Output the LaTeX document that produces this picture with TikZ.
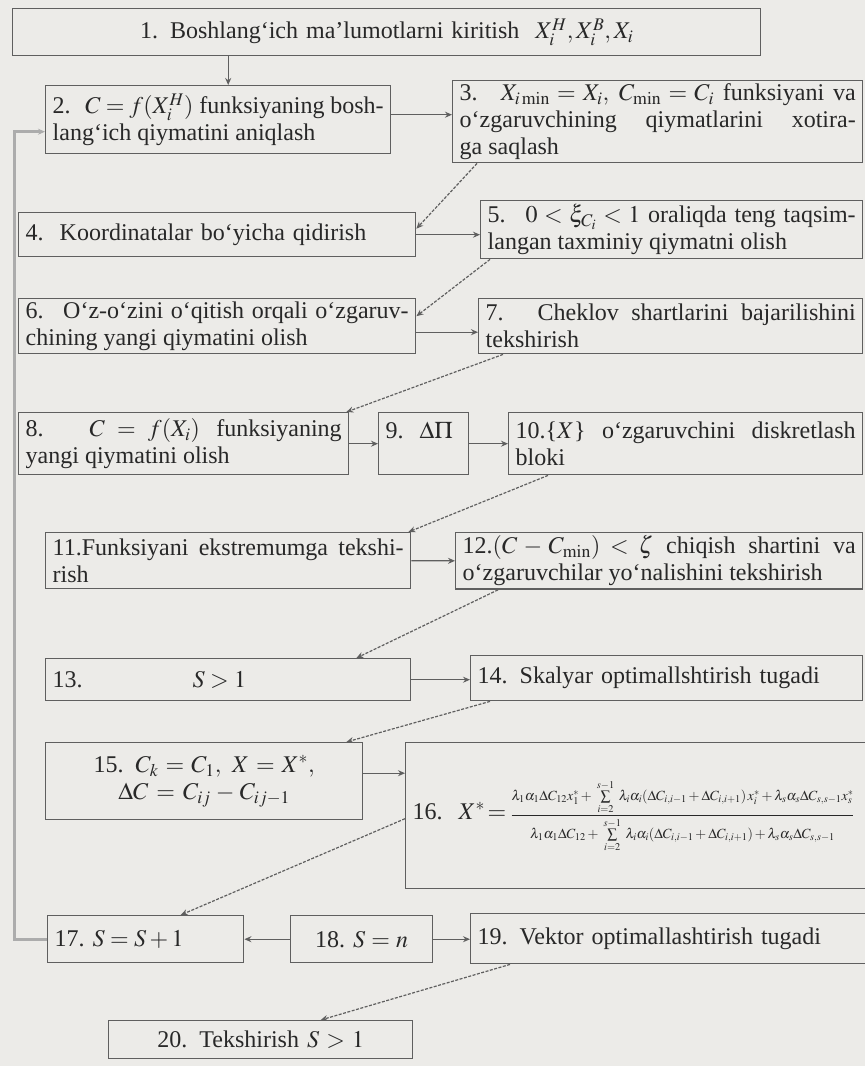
\documentclass[tikz,border=0pt]{standalone}
\usepackage{mathptmx}
\usepackage[no-math]{fontspec}
\setmainfont{Liberation Serif}
\usetikzlibrary{positioning,arrows.meta}
\definecolor{paper}{RGB}{236,235,232}
\definecolor{ink}{RGB}{40,40,40}
\definecolor{rule}{RGB}{95,95,95}
\definecolor{bar}{RGB}{172,172,172}

\begin{document}
\begin{tikzpicture}[x=1pt, y=-1pt,
    every node/.style={font=\fontsize{24}{27}\selectfont, text=ink},
    blk/.style={rectangle, draw=rule, line width=1.4pt, anchor=north west,
                inner xsep=7pt, inner ysep=3pt, align=justify},
    flow/.style={-{Stealth[length=7pt,width=6pt]}, draw=rule, line width=1.2pt},
    diag/.style={flow, dash pattern=on 3pt off 1.5pt},
    loopback/.style={-{Stealth[length=7pt,width=6pt]}, draw=bar, line width=3pt},
  ]
    \fill[paper] (0,0) rectangle (865,1066);
    \useasboundingbox (0,0) rectangle (865,1066);

    \node[blk, text width=734pt, minimum height=47pt, align=center] (inp) at (12,8)
      {1. Boshlang‘ich ma’lumotlarni kiritish\ \ $X_i^H, X_i^B, X_i$};
    \node[blk, text width=331pt, minimum height=68pt] (c0) at (45,85)
      {\hangindent=16pt\hangafter=1 2.\; $C = f(X_i^H)$ funksiyaning bosh-\linebreak lang‘ich qiymatini aniqlash};
    \node[blk, text width=396pt, minimum height=82pt] (mem) at (452,80)
      {\hangindent=10pt\hangafter=1 3.\; $X_{i\,\mathrm{min}} = X_i,\; C_{\mathrm{min}} = C_i$ funksiyani va\linebreak o‘zgaruvchining qiymatlarini xotira-\linebreak ga saqlash};
    \node[blk, text width=383pt, minimum height=44pt, align=left] (coord) at (18,212)
      {4.\ \ Koordinatalar bo‘yicha qidirish};
    \node[blk, text width=368pt, minimum height=58pt] (rnd) at (480,200)
      {\hangindent=30pt\hangafter=1\parfillskip=0pt 5.\; $0 < \xi_{C_i} < 1$ oraliqda teng taqsim-\linebreak langan taxminiy qiymatni olish};
    \node[blk, text width=383pt, minimum height=55pt] (self) at (18,298)
      {\hangindent=16pt\hangafter=1 6.\; O‘z-o‘zini o‘qitish orqali o‘zgaruv-\linebreak chining yangi qiymatini olish};
    \node[blk, text width=370pt, minimum height=55pt] (chk) at (478,298)
      {\hangindent=16pt\hangafter=1 7.\; Cheklov shartlarini bajarilishini\linebreak tekshirish};
    \node[blk, text width=316pt, minimum height=62pt] (cnew) at (18,412)
      {\hangindent=16pt\hangafter=1 8.\; $C = f(X_i)$ funksiyaning\linebreak yangi qiymatini olish};
    \node[blk, text width=76pt, minimum height=62pt, align=left] (dp) at (378,412)
      {9.\ \ $\Delta\Pi$\\ \mbox{}};
    \node[blk, text width=340pt, minimum height=62pt] (disc) at (508,412)
      {\hangindent=16pt\hangafter=1 10.\{$X$\} o‘zgaruvchini diskretlash\linebreak bloki};
    \node[blk, text width=351pt, minimum height=56pt] (ext) at (45,532)
      {\hangindent=16pt\hangafter=1 11.Funksiyani ekstremumga tekshi-\linebreak rish};
    \node[blk, text width=393pt, minimum height=56pt] (exitc) at (455,532)
      {\hangindent=26pt\hangafter=1\parfillskip=0pt 12.$(C - C_{\mathrm{min}}) < \zeta$ chiqish shartini va\linebreak o‘zgaruvchilar yo‘nalishini tekshirish};
    \node[blk, text width=351pt, minimum height=42pt, align=left] (s1) at (45,658)
      {13.\hspace{110pt}$S > 1$};
    \node[blk, text width=378pt, minimum height=45pt, align=left] (scal) at (470,655)
      {14. Skalyar optimallshtirish tugadi};
    \node[blk, text width=303pt, minimum height=77pt, align=center] (ck) at (45,742)
      {15. $C_k = C_1,\ X = X^{*},$\\ $\Delta C = C_{ij} - C_{ij-1}$};
    \node[blk, text width=446pt, minimum height=146pt, align=left] (xstar) at (405,742)
      {16.\ \ $X^{*}\!=$\,{\fontsize{14}{16}\selectfont$\displaystyle\frac{\rule[-10pt]{0pt}{24pt}\lambda_1\alpha_1\Delta C_{12}x_1^{*}+\;\sum\limits_{i=2}^{s-1}\;\lambda_i\alpha_i(\Delta C_{i,i-1}+\Delta C_{i,i+1})\,x_i^{*}+\lambda_s\alpha_s\Delta C_{s,s-1}x_s^{*}}{\rule[-12pt]{0pt}{26pt}\lambda_1\alpha_1\Delta C_{12}+\;\sum\limits_{i=2}^{s-1}\;\lambda_i\alpha_i(\Delta C_{i,i-1}+\Delta C_{i,i+1})+\lambda_s\alpha_s\Delta C_{s,s-1}}$}};
    \node[blk, text width=182pt, minimum height=47pt, align=left] (sinc) at (47,915)
      {17.\ $S = S + 1$};
    \node[blk, text width=128pt, minimum height=47pt, align=center] (sn) at (290,915)
      {18.\ $S = n$};
    \node[blk, text width=381pt, minimum height=50pt, align=left] (vec) at (470,913)
      {19. Vektor optimallashtirish tugadi};
    \node[blk, text width=290pt, minimum height=38pt, align=center] (test) at (108,1020)
      {20. Tekshirish $S > 1$};

    \draw[flow] ([xshift=10pt]c0.north |- inp.south) -- ([xshift=10pt]c0.north);
    \draw[flow] ([yshift=5pt]c0.east) -- ([yshift=5pt]mem.west |- c0.east);
    \draw[diag] ([xshift=25pt]mem.south west) -- ([yshift=6pt]coord.east);
    \draw[flow] (coord.east) -- (rnd.west |- coord.east);
    \draw[diag] ([xshift=10pt]rnd.south west) -- ([yshift=10pt]self.east);
    \draw[flow] ([yshift=-6pt]self.east) -- ([yshift=-6pt]chk.west |- self.east);
    \draw[diag] ([xshift=25pt]chk.south west) -- ([xshift=-3pt]cnew.north east);
    \draw[flow] (cnew) -- (dp);
    \draw[flow] (dp) -- (disc);
    \draw[diag] ([xshift=40pt]disc.south west) -- ([xshift=-3pt]ext.north east);
    \draw[flow] (ext) -- (exitc);
    \draw[diag] ([xshift=43pt]exitc.south west) -- ([xshift=-55pt]s1.north east);
    \draw[flow] (s1.east) -- (scal.west |- s1.east);
    \draw[diag] ([xshift=20pt]scal.south west) -- ([xshift=-17pt]ck.north east);
    \draw[flow] ([yshift=8pt]ck.east) -- ([yshift=8pt]xstar.west |- ck.east);
    \draw[diag] ([yshift=-3pt]xstar.west) -- ([xshift=35pt]sinc.north);
    \draw[flow] (sn) -- (sinc);
    \draw[flow] (sn) -- (vec.west |- sn.east);
    \draw[diag] ([xshift=40pt]vec.south west) -- ([xshift=60pt]test.north);
    \draw[loopback] (sinc.west) -- ++(-33,0) |- ([yshift=-12pt]c0.west);
\end{tikzpicture}
\end{document}
